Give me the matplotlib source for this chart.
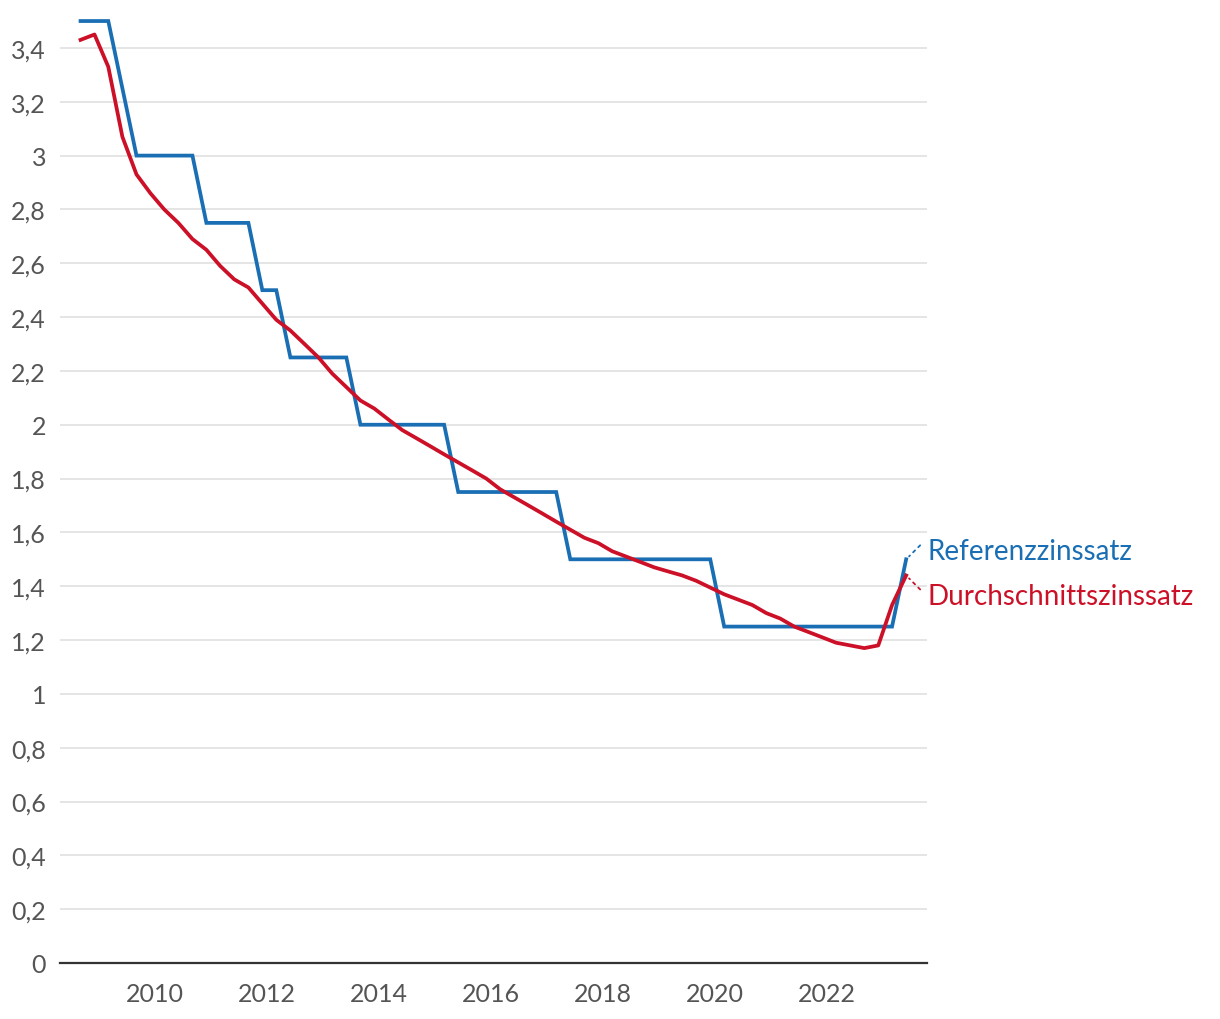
"""
Referenzzinssatz vs. Durchschnittszinssatz, quarterly 2008-2023
"""
from matplotlib import pyplot as plt
import matplotlib.dates as mdates
import pandas as pd
import numpy as np

plt.rcParams['font.family'] = ['Lato', 'DejaVu Sans']

# quarterly publication dates, Sept 2008 .. June 2023
start_quarter = '2008-09-01'
n_quarters = 60

referenz = [3.5, 3.5, 3.5, 3.25, 3.0, 3.0, 3.0, 3.0, 3.0, 2.75,
            2.75, 2.75, 2.75, 2.5, 2.5, 2.25, 2.25, 2.25, 2.25, 2.25,
            2.0, 2.0, 2.0, 2.0, 2.0, 2.0, 2.0, 1.75, 1.75, 1.75,
            1.75, 1.75, 1.75, 1.75, 1.75, 1.5, 1.5, 1.5, 1.5, 1.5,
            1.5, 1.5, 1.5, 1.5, 1.5, 1.5, 1.25, 1.25, 1.25, 1.25,
            1.25, 1.25, 1.25, 1.25, 1.25, 1.25, 1.25, 1.25, 1.25, 1.5]

durchschnitt = [3.43, 3.45, 3.33, 3.07, 2.93, 2.86, 2.80, 2.75, 2.69, 2.65,
                2.59, 2.54, 2.51, 2.45, 2.39, 2.35, 2.30, 2.25, 2.19, 2.14,
                2.09, 2.06, 2.02, 1.98, 1.95, 1.92, 1.89, 1.86, 1.83, 1.80,
                1.76, 1.73, 1.70, 1.67, 1.64, 1.61, 1.58, 1.56, 1.53, 1.51,
                1.49, 1.47, 1.455, 1.44, 1.42, 1.395, 1.37, 1.35, 1.33, 1.30,
                1.28, 1.25, 1.23, 1.21, 1.19, 1.18, 1.17, 1.18, 1.33, 1.44]

labels = ['Referenzzinssatz', 'Durchschnittszinssatz']
yticks = [0, 0.2, 0.4, 0.6, 0.8, 1, 1.2, 1.4, 1.6, 1.8, 2, 2.2, 2.4, 2.6, 2.8, 3, 3.2, 3.4]
xtick_years = [2010, 2012, 2014, 2016, 2018, 2020, 2022]

blue = '#1a6fb4'
red = '#cc1027'
grey_txt = '#555555'

dates = pd.date_range(start_quarter, periods=n_quarters, freq='3MS')

fig = plt.figure(figsize=(12.2, 10.2), dpi=100)
ax = fig.add_axes([60/1220, 1-964/1020, (927-60)/1220, (964-18)/1020])

ax.plot(dates, referenz, color=blue, lw=2.7, solid_joinstyle='miter', zorder=3)
ax.plot(dates, durchschnitt, color=red, lw=2.7, zorder=4)

ax.set_xlim(pd.Timestamp('2008-04-20'), pd.Timestamp('2023-10-15'))
ax.set_ylim(0, 3.515)

ax.set_yticks(yticks)
ax.set_yticklabels([('%g' % t).replace('.', ',') for t in yticks])
ax.set_xticks([pd.Timestamp('%d-01-01' % y) for y in xtick_years])
ax.xaxis.set_major_formatter(mdates.DateFormatter('%Y'))
ax.tick_params(axis='both', length=0, labelsize=18, labelcolor=grey_txt)
ax.tick_params(axis='y', pad=10)
ax.tick_params(axis='x', pad=14)

ax.grid(axis='y', color='#e3e3e3', lw=1.3)
ax.set_axisbelow(True)
for s in ['left', 'right', 'top']:
    ax.spines[s].set_visible(False)
ax.spines['bottom'].set_color('#333333')
ax.spines['bottom'].set_linewidth(1.6)

# end labels with dotted leaders
for vals, lab, col, dy_line, dy_txt in [(referenz, labels[0], blue, 14, 8),
                                        (durchschnitt, labels[1], red, -14, -21)]:
    ax.annotate('', xy=(dates[-1], vals[-1]), xytext=(14, dy_line),
                textcoords='offset pixels',
                arrowprops=dict(arrowstyle='-', color=col, lw=1.3,
                                linestyle=(0, (1.5, 2.5)), shrinkA=0, shrinkB=3),
                annotation_clip=False)
    ax.annotate(lab, xy=(dates[-1], vals[-1]), xytext=(21, dy_txt),
                textcoords='offset pixels', color=col, fontsize=20,
                ha='left', va='center', annotation_clip=False)

fig.savefig('out.png', dpi=100)
